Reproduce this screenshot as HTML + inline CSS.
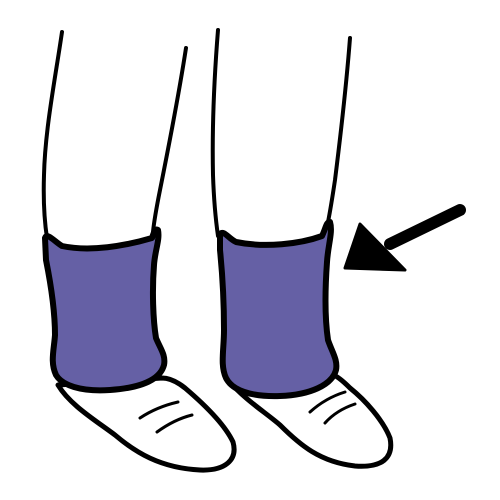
<!DOCTYPE html>
<html><head><meta charset="utf-8"><style>html,body{margin:0;padding:0;background:#fff}svg{display:block}</style></head>
<body>
<svg width="500" height="500" viewBox="0 0 500 500" fill="none" stroke="#000" stroke-linecap="round" stroke-linejoin="round">
  <!-- left leg outlines -->
  <path stroke-width="4" d="M62,32 C55,80 45,130 44,175 C43,205 45,225 47,238"/>
  <path stroke-width="4" d="M186,48 C178,100 168,150 160,190 C156,210 154,222 153,232"/>
  <!-- left shoe -->
  <path stroke-width="5" fill="#fff" d="M58,385 C70,405 95,420 115,435 C135,452 160,468 200,470 C225,471 238,460 233,442 C225,425 205,405 185,388 C175,380 168,378 162,378 Z"/>
  <path stroke-width="3" d="M140,418 C152,410 165,405 178,402"/>
  <path stroke-width="3" d="M157,432 C168,424 180,418 192,415"/>
  <!-- left warmer -->
  <path stroke-width="6" fill="#6560a5" d="M45,238 C47,232 55,242 62,246 C90,252 125,246 152,238 C154,232 155,228 158,230 C160,240 155,250 154,265 C152,290 153,320 156,338 C160,348 166,355 164,365 C160,380 140,388 110,390 C80,392 62,385 56,375 C50,362 54,350 55,335 C55,310 50,280 46,260 Z"/>
  <!-- right leg outlines -->
  <path stroke-width="4" d="M218,30 C214,80 212,130 213,175 C214,205 216,222 218,236"/>
  <path stroke-width="4" d="M350,38 C346,90 340,140 335,180 C332,200 330,212 328,222"/>
  <!-- right shoe -->
  <path stroke-width="5" fill="#fff" d="M228,380 C245,400 265,412 280,425 C300,445 320,462 355,466 C382,468 394,458 390,438 C383,420 365,400 350,388 C342,380 337,376 333,375 Z"/>
  <path stroke-width="3" d="M310,412 C320,403 332,396 345,392"/>
  <path stroke-width="3" d="M325,423 C333,414 343,408 355,404"/>
  <!-- right warmer -->
  <path stroke-width="6" fill="#6560a5" d="M220,234 C224,230 228,238 236,242 C265,248 300,244 322,236 C326,228 326,222 330,222 C333,232 328,245 327,262 C325,290 325,320 328,340 C332,352 338,360 336,370 C332,385 310,395 280,396 C250,397 232,390 226,378 C220,365 224,350 224,330 C224,300 222,270 220,250 Z"/>
  <!-- arrow -->
  <line x1="460" y1="210" x2="390" y2="244" stroke-width="12"/>
  <polygon points="345,268 360,224 405,270" fill="#000" stroke-width="3"/>
</svg>
</body></html>
